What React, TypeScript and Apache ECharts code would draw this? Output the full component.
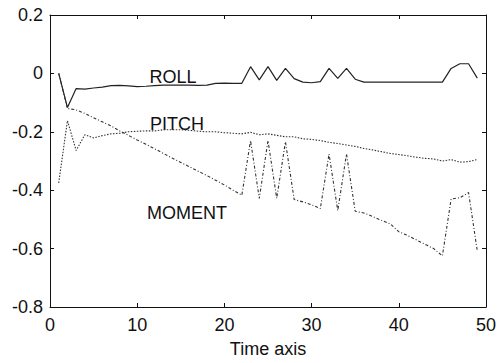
import React, { useEffect, useRef } from "react";
import * as echarts from "echarts";

const timeSteps = [1,2,3,4,5,6,7,8,9,10,11,12,13,14,15,16,17,18,19,20,21,22,23,24,25,26,27,28,29,30,31,32,33,34,35,36,37,38,39,40,41,42,43,44,45,46,47,48,49];

const rollValues = [0,-0.117,-0.052,-0.054,-0.05,-0.047,-0.042,-0.041,-0.043,-0.045,-0.044,-0.042,-0.04,-0.04,-0.04,-0.04,-0.041,-0.04,-0.034,-0.033,-0.034,-0.034,0.023,-0.022,0.023,-0.024,0.017,-0.018,-0.03,-0.032,-0.028,0.017,-0.017,0.017,-0.02,-0.03,-0.03,-0.03,-0.03,-0.03,-0.03,-0.03,-0.03,-0.03,-0.03,0.017,0.033,0.033,-0.016];

const pitchValues = [-0.375,-0.162,-0.264,-0.21,-0.221,-0.213,-0.207,-0.205,-0.2,-0.198,-0.197,-0.197,-0.193,-0.193,-0.193,-0.195,-0.198,-0.2,-0.2,-0.203,-0.205,-0.207,-0.202,-0.21,-0.207,-0.212,-0.217,-0.217,-0.224,-0.226,-0.23,-0.236,-0.24,-0.245,-0.25,-0.257,-0.262,-0.268,-0.274,-0.278,-0.282,-0.287,-0.291,-0.293,-0.3,-0.295,-0.304,-0.302,-0.295];

const momentValues = [0,-0.12,-0.125,-0.137,-0.152,-0.166,-0.18,-0.197,-0.212,-0.228,-0.243,-0.258,-0.274,-0.29,-0.305,-0.32,-0.335,-0.35,-0.366,-0.382,-0.4,-0.417,-0.23,-0.428,-0.23,-0.428,-0.234,-0.432,-0.44,-0.45,-0.463,-0.276,-0.47,-0.276,-0.472,-0.478,-0.49,-0.503,-0.515,-0.542,-0.555,-0.57,-0.585,-0.6,-0.625,-0.43,-0.426,-0.408,-0.608];

const seriesNames = ["ROLL", "PITCH", "MOMENT"];
const xTicks = [0, 10, 20, 30, 40, 50];
const yTicks = [-0.8, -0.6, -0.4, -0.2, 0, 0.2];

const FONT = "Liberation Sans, Arial, sans-serif";

export default function App() {
  const ref = useRef<HTMLDivElement>(null);
  useEffect(() => {
    if (!ref.current) return;
    const chart = echarts.init(ref.current, undefined, { renderer: "svg" });
    const pair = (vals: number[]) => timeSteps.map((t, i) => [t, vals[i]]);
    const axisLine = { show: true, onZero: false, lineStyle: { color: "#111", width: 1 } };
    const tick = { show: true, inside: true, length: 4, lineStyle: { color: "#111" } };
    chart.setOption({
      animation: false,
      backgroundColor: "#fff",
      grid: { left: 50, right: 15, top: 15, bottom: 54 },
      xAxis: [
        {
          type: "value", min: xTicks[0], max: xTicks[xTicks.length - 1], interval: 10,
          position: "bottom",
          axisLine, axisTick: tick, splitLine: { show: false },
          axisLabel: { color: "#111", fontSize: 18, fontFamily: FONT, margin: 9 },
          name: "Time axis", nameLocation: "middle", nameGap: 33,
          nameTextStyle: { color: "#111", fontSize: 18, fontFamily: FONT },
        },
        {
          type: "value", min: 0, max: 50, interval: 10, position: "top",
          axisLine, axisTick: tick, splitLine: { show: false }, axisLabel: { show: false },
        },
      ],
      yAxis: [
        {
          type: "value", min: yTicks[0], max: yTicks[yTicks.length - 1], interval: 0.2,
          position: "left",
          axisLine, axisTick: tick, splitLine: { show: false },
          axisLabel: {
            color: "#111", fontSize: 18, fontFamily: FONT, margin: 7,
            formatter: (v: number) => {
              const r = Math.round(v * 10) / 10;
              return r === 0 ? "0" : r.toFixed(1);
            },
          },
        },
        {
          type: "value", min: -0.8, max: 0.2, interval: 0.2, position: "right",
          axisLine, axisTick: tick, splitLine: { show: false }, axisLabel: { show: false },
        },
      ],
      series: [
        {
          name: seriesNames[0], type: "line", data: pair(rollValues), showSymbol: false, symbol: "none",
          lineStyle: { color: "#222", width: 1.2, type: "solid" },
        },
        {
          name: seriesNames[1], type: "line", data: pair(pitchValues), showSymbol: false, symbol: "none",
          lineStyle: { color: "#333", width: 1.1, type: [1.5, 1.5] },
        },
        {
          name: seriesNames[2], type: "line", data: pair(momentValues), showSymbol: false, symbol: "none",
          lineStyle: { color: "#333", width: 1.1, type: [3, 2, 1, 2] },
        },
      ],
      graphic: [
        { type: "text", x: 173, y: 77, style: { text: seriesNames[0], fontSize: 18, fontFamily: FONT, fill: "#111", textAlign: "center", textVerticalAlign: "middle" } },
        { type: "text", x: 177, y: 124, style: { text: seriesNames[1], fontSize: 18, fontFamily: FONT, fill: "#111", textAlign: "center", textVerticalAlign: "middle" } },
        { type: "text", x: 187, y: 213, style: { text: seriesNames[2], fontSize: 18, fontFamily: FONT, fill: "#111", textAlign: "center", textVerticalAlign: "middle" } },
      ],
    });
    return () => chart.dispose();
  }, []);
  return <div ref={ref} style={{ position: "fixed", left: 0, top: 0, width: 501, height: 363 }} />;
}
